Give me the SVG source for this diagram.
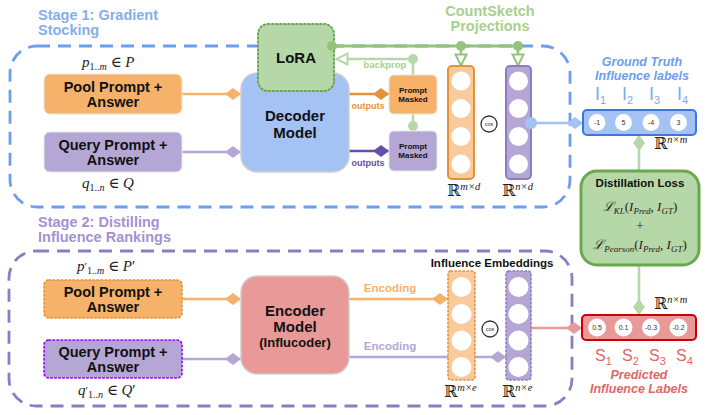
<svg xmlns="http://www.w3.org/2000/svg" width="708" height="415" viewBox="0 0 708 415">
<defs>
<style>
.b{font-family:"Liberation Sans",Arial,sans-serif;font-weight:bold}
.m{font-family:"Liberation Serif","DejaVu Serif",serif;fill:#222}
.i{font-style:italic}
.stage{fill:none;stroke-width:2.8;stroke-dasharray:13 8}
.ln{fill:none;stroke-width:2.5}
.vc{fill:#fff}
.val{font-family:"Liberation Sans",Arial,sans-serif;font-size:7px;fill:#333}
.cos{fill:#fff;stroke:#333;stroke-width:1.3}
.cost{font-family:"Liberation Sans",Arial,sans-serif;font-size:5.5px;fill:#333}
.dot{stroke-dasharray:1.5 2.5;stroke-linecap:round}
</style>
<marker id="dOr" viewBox="0 0 16 12" refX="16" refY="6" markerWidth="16" markerHeight="12" markerUnits="userSpaceOnUse" orient="auto"><path d="M0,6 L8,0 L16,6 L8,12 z" fill="#f6b26b"/></marker>
<marker id="dPu" viewBox="0 0 16 12" refX="16" refY="6" markerWidth="16" markerHeight="12" markerUnits="userSpaceOnUse" orient="auto"><path d="M0,6 L8,0 L16,6 L8,12 z" fill="#b4a7d6"/></marker>
<marker id="dOrD" viewBox="0 0 16 12" refX="16" refY="6" markerWidth="16" markerHeight="12" markerUnits="userSpaceOnUse" orient="auto"><path d="M0,6 L8,0 L16,6 L8,12 z" fill="#e69138"/></marker>
<marker id="dPuD" viewBox="0 0 16 12" refX="16" refY="6" markerWidth="16" markerHeight="12" markerUnits="userSpaceOnUse" orient="auto"><path d="M0,6 L8,0 L16,6 L8,12 z" fill="#674ea7"/></marker>
<marker id="dBl" viewBox="0 0 16 12" refX="16" refY="6" markerWidth="16" markerHeight="12" markerUnits="userSpaceOnUse" orient="auto"><path d="M0,6 L8,0 L16,6 L8,12 z" fill="#a4c2f4"/></marker>
<marker id="dGr" viewBox="0 0 16 12" refX="16" refY="6" markerWidth="16" markerHeight="12" markerUnits="userSpaceOnUse" orient="auto"><path d="M0,6 L8,0 L16,6 L8,12 z" fill="#b6d7a8"/></marker>
<marker id="dPk" viewBox="0 0 16 12" refX="16" refY="6" markerWidth="16" markerHeight="12" markerUnits="userSpaceOnUse" orient="auto"><path d="M0,6 L8,0 L16,6 L8,12 z" fill="#e69a9a"/></marker>
<marker id="aGr" viewBox="0 0 14 14" refX="13" refY="7" markerWidth="14" markerHeight="14" markerUnits="userSpaceOnUse" orient="auto"><path d="M1.5,1.5 L12.5,7 L1.5,12.5 z" fill="#fff" stroke="#93c47d" stroke-width="2"/></marker>
<marker id="aGr2" viewBox="0 0 14 14" refX="13" refY="7" markerWidth="14" markerHeight="14" markerUnits="userSpaceOnUse" orient="auto"><path d="M1.5,1.5 L12.5,7 L1.5,12.5 z" fill="#fff" stroke="#b6d7a8" stroke-width="2"/></marker>
</defs>

<rect width="708" height="415" fill="#fff"/>

<g id="stage1">
<rect class="stage" x="10" y="46" width="560" height="161" rx="27" stroke="#6d9eeb"/>
<text class="b" x="38" y="20" font-size="14.5" fill="#86aeea">Stage 1: Gradient</text>
<text class="b" x="38" y="35" font-size="14.5" fill="#86aeea">Stocking</text>
<text class="b" x="490" y="16" font-size="14.5" fill="#a8d08d" text-anchor="middle">CountSketch</text>
<text class="b" x="490" y="31" font-size="14.5" fill="#a8d08d" text-anchor="middle">Projections</text>
</g>
<g id="stage2">
<rect class="stage" x="9" y="251" width="563" height="155" rx="27" stroke="#8e7cc3"/>
<text class="b" x="38" y="227" font-size="14.5" fill="#a393d1">Stage 2: Distilling</text>
<text class="b" x="38" y="242" font-size="14.5" fill="#a393d1">Influence Rankings</text>
</g>

<g id="connectors">
<line class="ln" x1="182" y1="94" x2="241" y2="94" stroke="#f6b26b" marker-end="url(#dOr)"/>
<line class="ln" x1="182" y1="152" x2="241" y2="152" stroke="#b4a7d6" marker-end="url(#dPu)"/>
<line class="ln" x1="349" y1="94" x2="389" y2="94" stroke="#e69138" marker-end="url(#dOrD)"/>
<line class="ln" x1="349" y1="151" x2="389" y2="151" stroke="#674ea7" marker-end="url(#dPuD)"/>
<text class="b" x="368" y="109" font-size="9" fill="#e69138" text-anchor="middle">outputs</text>
<text class="b" x="368" y="166" font-size="9" fill="#674ea7" text-anchor="middle">outputs</text>
<line x1="332" y1="46" x2="518" y2="46" stroke="#93c47d" stroke-width="3"/>
<line class="ln" x1="461" y1="46" x2="461" y2="66" stroke="#93c47d" marker-end="url(#aGr)"/>
<line class="ln" x1="518" y1="46" x2="518" y2="66" stroke="#93c47d" marker-end="url(#aGr)"/>
<circle cx="461" cy="46" r="5" fill="#93c47d"/>
<circle cx="518" cy="46" r="5" fill="#93c47d"/>
<path class="ln" d="M413,75 L413,59 L336,59" stroke="#b6d7a8" stroke-width="3" marker-end="url(#aGr2)"/>
<circle cx="413" cy="59" r="5" fill="#b6d7a8"/>
<text class="b" x="385" y="68" font-size="9.5" fill="#a8d08d" text-anchor="middle">backprop</text>
<line class="ln" x1="413" y1="114" x2="413" y2="131" stroke="#b6d7a8" stroke-width="3"/>
<circle cx="413" cy="126" r="5" fill="#b6d7a8"/>
<line class="ln" x1="531" y1="123" x2="583" y2="123" stroke="#a4c2f4" stroke-width="3" marker-end="url(#dBl)"/>
<line class="ln" x1="639" y1="171" x2="639" y2="135" stroke="#b6d7a8" stroke-width="3" marker-end="url(#dGr)"/>
<line class="ln" x1="639" y1="265" x2="639" y2="315" stroke="#b6d7a8" stroke-width="3" marker-end="url(#dGr)"/>
<line class="ln" x1="182" y1="299" x2="241" y2="299" stroke="#f6b26b" marker-end="url(#dOr)"/>
<line class="ln" x1="182" y1="359" x2="241" y2="359" stroke="#b4a7d6" marker-end="url(#dPu)"/>
<line class="ln" x1="349" y1="299" x2="448" y2="299" stroke="#f6b26b" marker-end="url(#dOr)"/>
<line class="ln" x1="349" y1="357" x2="506" y2="357" stroke="#b4a7d6" marker-end="url(#dPu)"/>
<text class="b" x="390" y="292" font-size="11.5" fill="#f6b26b" text-anchor="middle">Encoding</text>
<text class="b" x="390" y="350" font-size="11.5" fill="#b4a7d6" text-anchor="middle">Encoding</text>
<line class="ln" x1="531" y1="328" x2="582" y2="328" stroke="#e69a9a" stroke-width="3" marker-end="url(#dPk)"/>
</g>

<g id="pool1">
<text class="m" x="82" y="67" font-size="15"><tspan class="i">p</tspan><tspan font-size="10" dy="3">1..</tspan><tspan font-size="10" class="i">m</tspan><tspan dy="-3"> ∈ </tspan><tspan class="i">P</tspan></text>
<rect x="44" y="74" width="138" height="40" rx="6" fill="#f6b26b" stroke="#e6e6e6"/>
<text class="b" x="113" y="92" font-size="14.5" fill="#111" text-anchor="middle">Pool Prompt +</text>
<text class="b" x="113" y="107" font-size="14.5" fill="#111" text-anchor="middle">Answer</text>
</g>
<g id="query1">
<rect x="44" y="132" width="138" height="40" rx="6" fill="#b4a7d6" stroke="#e6e6e6"/>
<text class="b" x="113" y="150" font-size="14.5" fill="#111" text-anchor="middle">Query Prompt +</text>
<text class="b" x="113" y="165" font-size="14.5" fill="#111" text-anchor="middle">Answer</text>
<text class="m" x="82" y="188" font-size="15"><tspan class="i">q</tspan><tspan font-size="10" dy="3">1..</tspan><tspan font-size="10" class="i">n</tspan><tspan dy="-3"> ∈ </tspan><tspan class="i">Q</tspan></text>
</g>
<g id="decoder">
<rect x="241" y="73" width="108" height="99" rx="16" fill="#a4c2f4" stroke="#d0d0d0" stroke-width="1.5"/>
<text class="b" x="295" y="121" font-size="15" fill="#111" text-anchor="middle">Decoder</text>
<text class="b" x="295" y="138" font-size="15" fill="#111" text-anchor="middle">Model</text>
</g>
<g id="lora">
<rect class="dot" x="258" y="24" width="76" height="67" rx="10" fill="#b6d7a8" stroke="#6aa84f" stroke-width="2"/>
<text class="b" x="296" y="63" font-size="15" fill="#111" text-anchor="middle">LoRA</text>
<circle cx="332" cy="46" r="5" fill="#93c47d"/>
</g>
<g id="masked1">
<rect x="389" y="75" width="48" height="39" rx="5" fill="#f6b26b" stroke="#e6e6e6"/>
<text class="b" x="413" y="92.5" font-size="8" fill="#111" text-anchor="middle">Prompt</text>
<text class="b" x="413" y="101.5" font-size="8" fill="#111" text-anchor="middle">Masked</text>
</g>
<g id="masked2">
<rect x="389" y="131" width="48" height="40" rx="5" fill="#b4a7d6" stroke="#e6e6e6"/>
<text class="b" x="413" y="148.5" font-size="8" fill="#111" text-anchor="middle">Prompt</text>
<text class="b" x="413" y="157.5" font-size="8" fill="#111" text-anchor="middle">Masked</text>
</g>
<g id="projPool">
<rect x="448" y="66" width="26" height="113" rx="4" fill="#f9cb9c" stroke="#e69138" stroke-width="2"/>
<circle class="vc" cx="461" cy="81" r="9.5"/><circle class="vc" cx="461" cy="108.5" r="9.5"/><circle class="vc" cx="461" cy="136.5" r="9.5"/><circle class="vc" cx="461" cy="164" r="9.5"/>
<text class="m" x="447" y="196" font-size="16">ℝ<tspan font-size="10.5" dy="-6" class="i">m×d</tspan></text>
</g>
<g id="cos1">
<circle class="cos" cx="489" cy="124" r="8"/>
<text class="cost" x="489" y="126" text-anchor="middle">cos</text>
</g>
<g id="projQuery">
<rect x="506" y="66" width="25" height="113" rx="4" fill="#b4a7d6" stroke="#8e7cc3" stroke-width="2"/>
<circle class="vc" cx="518.5" cy="81" r="9.5"/><circle class="vc" cx="518.5" cy="108.5" r="9.5"/><circle class="vc" cx="518.5" cy="136.5" r="9.5"/><circle class="vc" cx="518.5" cy="164" r="9.5"/>
<circle cx="531" cy="123" r="6" fill="#a4c2f4"/>
<text class="m" x="502" y="196" font-size="16">ℝ<tspan font-size="10.5" dy="-6" class="i">n×d</tspan></text>
</g>
<g id="groundTruth">
<text class="b i" x="642" y="66" font-size="12.5" fill="#6d9eeb" text-anchor="middle">Ground Truth</text>
<text class="b i" x="642" y="80" font-size="12.5" fill="#6d9eeb" text-anchor="middle">Influence labels</text>
<g font-family="Liberation Sans,Arial,sans-serif" font-size="18" fill="#7fa8ec">
<text x="595" y="100">I<tspan font-size="11" dy="4">1</tspan></text>
<text x="622" y="100">I<tspan font-size="11" dy="4">2</tspan></text>
<text x="649" y="100">I<tspan font-size="11" dy="4">3</tspan></text>
<text x="677" y="100">I<tspan font-size="11" dy="4">4</tspan></text>
</g>
<rect x="583" y="110" width="113" height="25" rx="4" fill="#a4c2f4" stroke="#3c78d8" stroke-width="2"/>
<circle class="vc" cx="597" cy="122.5" r="8.5"/><circle class="vc" cx="623.5" cy="122.5" r="8.5"/><circle class="vc" cx="651" cy="122.5" r="8.5"/><circle class="vc" cx="678.5" cy="122.5" r="8.5"/>
<text class="val" x="597" y="125" text-anchor="middle">-1</text>
<text class="val" x="623.5" y="125" text-anchor="middle">5</text>
<text class="val" x="651" y="125" text-anchor="middle">-4</text>
<text class="val" x="678.5" y="125" text-anchor="middle">3</text>
<text class="m" x="654" y="149" font-size="16">ℝ<tspan font-size="10.5" dy="-6" class="i">n×m</tspan></text>
</g>
<g id="loss">
<rect x="581" y="171" width="118" height="94" rx="16" fill="#b6d7a8" stroke="#6aa84f" stroke-width="3"/>
<text class="b" x="640" y="187" font-size="11.5" fill="#111" text-anchor="middle">Distillation Loss</text>
<text class="m" x="640" y="211" font-size="13" text-anchor="middle"><tspan class="i">ℒ</tspan><tspan font-size="9" dy="2.5" class="i">KL</tspan><tspan dy="-2.5">(</tspan><tspan class="i">I</tspan><tspan font-size="9" dy="2.5" class="i">Pred</tspan><tspan dy="-2.5">, </tspan><tspan class="i">I</tspan><tspan font-size="9" dy="2.5" class="i">GT</tspan><tspan dy="-2.5">)</tspan></text>
<text class="m" x="640" y="230" font-size="13" text-anchor="middle">+</text>
<text class="m" x="640" y="249" font-size="13" text-anchor="middle"><tspan class="i">ℒ</tspan><tspan font-size="9" dy="2.5" class="i">Pearson</tspan><tspan dy="-2.5">(</tspan><tspan class="i">I</tspan><tspan font-size="9" dy="2.5" class="i">Pred</tspan><tspan dy="-2.5">, </tspan><tspan class="i">I</tspan><tspan font-size="9" dy="2.5" class="i">GT</tspan><tspan dy="-2.5">)</tspan></text>
</g>
<g id="pool2">
<text class="m" x="77" y="271" font-size="15"><tspan class="i">p</tspan><tspan font-size="11" dy="-1">′</tspan><tspan font-size="10" dy="4">1..</tspan><tspan font-size="10" class="i">m</tspan><tspan dy="-3"> ∈ </tspan><tspan class="i">P</tspan>′</text>
<rect class="dot" x="44" y="280" width="138" height="38" rx="5" fill="#f6b26b" stroke="#e69138" stroke-width="1.6"/>
<text class="b" x="113" y="297" font-size="14.5" fill="#111" text-anchor="middle">Pool Prompt +</text>
<text class="b" x="113" y="312" font-size="14.5" fill="#111" text-anchor="middle">Answer</text>
</g>
<g id="query2">
<rect class="dot" x="44" y="340" width="138" height="38" rx="5" fill="#b4a7d6" stroke="#9900ff" stroke-width="1.6"/>
<text class="b" x="113" y="357" font-size="14.5" fill="#111" text-anchor="middle">Query Prompt +</text>
<text class="b" x="113" y="372" font-size="14.5" fill="#111" text-anchor="middle">Answer</text>
<text class="m" x="78" y="395" font-size="15"><tspan class="i">q</tspan><tspan font-size="11" dy="-1">′</tspan><tspan font-size="10" dy="4">1..</tspan><tspan font-size="10" class="i">n</tspan><tspan dy="-3"> ∈ </tspan><tspan class="i">Q</tspan>′</text>
</g>
<g id="encoder">
<rect x="241" y="276" width="108" height="98" rx="16" fill="#ea9999" stroke="#d0d0d0" stroke-width="1.5"/>
<text class="b" x="295" y="316" font-size="15" fill="#111" text-anchor="middle">Encoder</text>
<text class="b" x="295" y="332" font-size="15" fill="#111" text-anchor="middle">Model</text>
<text class="b" x="295" y="347" font-size="13" fill="#111" text-anchor="middle">(Influcoder)</text>
</g>
<g id="embPool">
<text class="b" x="492" y="267" font-size="11.5" fill="#111" text-anchor="middle">Influence Embeddings</text>
<rect class="dot" x="448" y="271" width="27" height="109" rx="3" fill="#f9cb9c" stroke="#e69138" stroke-width="1.6"/>
<circle class="vc" cx="461.5" cy="287" r="10"/><circle class="vc" cx="461.5" cy="314" r="10"/><circle class="vc" cx="461.5" cy="340.5" r="10"/><circle class="vc" cx="461.5" cy="367" r="10"/>
<text class="m" x="444" y="397" font-size="16">ℝ<tspan font-size="10.5" dy="-6" class="i">m×e</tspan></text>
</g>
<g id="cos2">
<circle class="cos" cx="490" cy="329" r="8"/>
<text class="cost" x="490" y="331" text-anchor="middle">cos</text>
</g>
<g id="embQuery">
<rect class="dot" x="506" y="271" width="25" height="109" rx="3" fill="#b4a7d6" stroke="#8e7cc3" stroke-width="1.6"/>
<circle class="vc" cx="518.5" cy="287" r="10"/><circle class="vc" cx="518.5" cy="314" r="10"/><circle class="vc" cx="518.5" cy="340.5" r="10"/><circle class="vc" cx="518.5" cy="367" r="10"/>
<text class="m" x="502" y="397" font-size="16">ℝ<tspan font-size="10.5" dy="-6" class="i">n×e</tspan></text>
</g>
<g id="predicted">
<text class="m" x="654" y="309" font-size="16">ℝ<tspan font-size="10.5" dy="-6" class="i">n×m</tspan></text>
<rect x="582" y="315" width="114" height="25" rx="4" fill="#ea9999" stroke="#cc0000" stroke-width="2"/>
<circle class="vc" cx="597" cy="327.5" r="9"/><circle class="vc" cx="623.5" cy="327.5" r="9"/><circle class="vc" cx="651" cy="327.5" r="9"/><circle class="vc" cx="678.5" cy="327.5" r="9"/>
<text class="val" x="597" y="330" text-anchor="middle">0.5</text>
<text class="val" x="623.5" y="330" text-anchor="middle">0.1</text>
<text class="val" x="651" y="330" text-anchor="middle">-0.3</text>
<text class="val" x="678.5" y="330" text-anchor="middle">-0.2</text>
<g font-family="Liberation Sans,Arial,sans-serif" font-size="16" fill="#e06666">
<text x="595" y="361">S<tspan font-size="11" dy="4">1</tspan></text>
<text x="622" y="361">S<tspan font-size="11" dy="4">2</tspan></text>
<text x="649" y="361">S<tspan font-size="11" dy="4">3</tspan></text>
<text x="676" y="361">S<tspan font-size="11" dy="4">4</tspan></text>
</g>
<text class="b i" x="639" y="379" font-size="12.5" fill="#e06666" text-anchor="middle">Predicted</text>
<text class="b i" x="639" y="393" font-size="12.5" fill="#e06666" text-anchor="middle">Influence Labels</text>
</g>
</svg>
